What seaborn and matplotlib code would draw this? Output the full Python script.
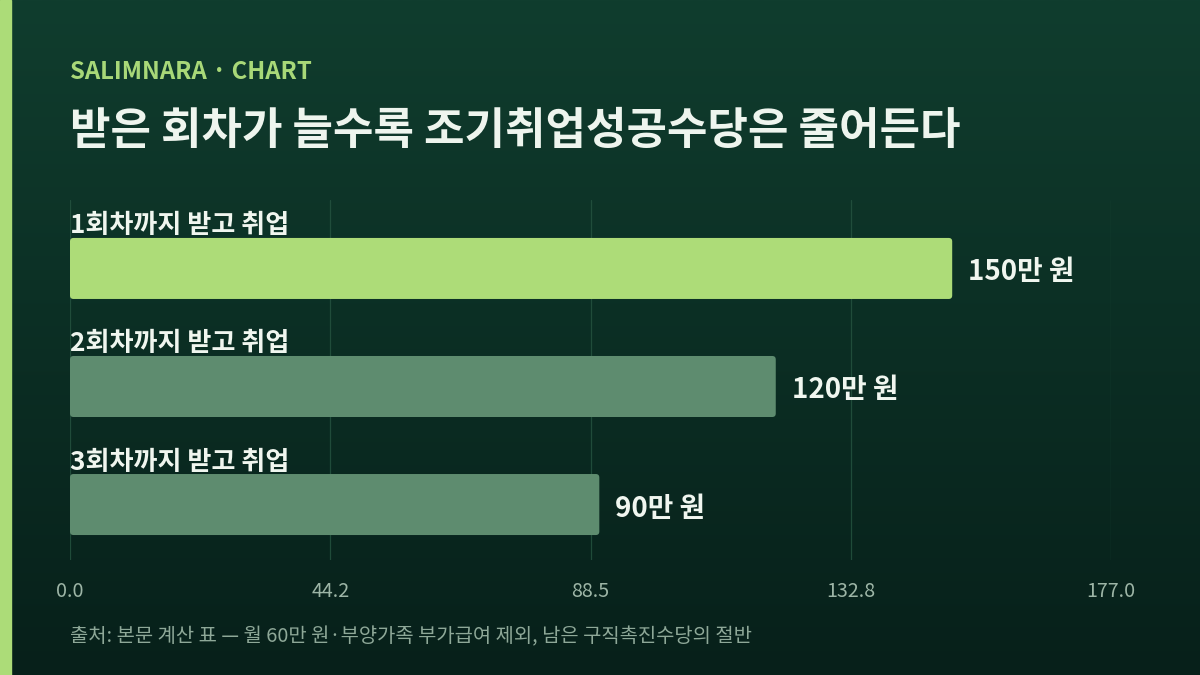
import numpy as np
import pandas as pd
import matplotlib
matplotlib.use("Agg")
import matplotlib.pyplot as plt
import seaborn as sns
from matplotlib.patches import FancyBboxPatch, Rectangle
from matplotlib.colors import LinearSegmentedColormap

# ---- data ----
categories = ["1회차까지 받고 취업", "2회차까지 받고 취업", "3회차까지 받고 취업"]
values = [150, 120, 90]
value_labels = ["150만 원", "120만 원", "90만 원"]
bar_colors = ["#addc78", "#5e8c6f", "#5e8c6f"]
x_max = 177.0
tick_values = list(np.linspace(0, x_max, 5))

kicker = "SALIMNARA · CHART"
title = "받은 회차가 늘수록 조기취업성공수당은 줄어든다"
source = "출처: 본문 계산 표 — 월 60만 원·부양가족 부가급여 제외, 남은 구직촉진수당의 절반"

sns.set_theme(style="white")
plt.rcParams["font.family"] = ["Noto Sans CJK KR", "DejaVu Sans"]

fig = plt.figure(figsize=(12, 6.75), dpi=100)

# background gradient
bg = fig.add_axes([0, 0, 1, 1], zorder=-10)
cmap = LinearSegmentedColormap.from_list("bg", ["#103d2e", "#07201a"])
grad = np.linspace(0, 1, 256).reshape(-1, 1)
bg.imshow(grad, aspect="auto", cmap=cmap, extent=[0, 1, 0, 1], origin="upper")
bg.add_patch(Rectangle((0, 0), 11 / 1200, 1, color="#acdc78", transform=bg.transAxes))
bg.set_axis_off()

ax = fig.add_axes([70 / 1200, 1 - 560 / 675, 1041 / 1200, 360 / 675])
ax.set_facecolor("none")

df = pd.DataFrame({"cat": categories, "val": values})
bar_h = 61 / 118
sns.barplot(data=df, x="val", y="cat", hue="cat", palette=bar_colors,
            orient="h", width=bar_h, legend=False, ax=ax, saturation=1)

ax.set_xlim(0, x_max)
ax.set_ylim(len(categories) - 1 + 0.47, -0.58)

# rounded bars
px_x = x_max / 1041
px_y = 1 / 118
for p in list(ax.patches):
    x, y = p.get_x(), p.get_y()
    w, h = p.get_width(), p.get_height()
    fc = p.get_facecolor()
    p.set_visible(False)
    r = 3.5 * px_x
    fb = FancyBboxPatch((x, y), w, h,
                        boxstyle=f"round,pad=0,rounding_size={r}",
                        mutation_aspect=px_y / px_x,
                        facecolor=fc, edgecolor="none", zorder=3)
    ax.add_patch(fb)

# grid
ax.set_xticks(tick_values)
ax.set_xticklabels([f"{t:.1f}" for t in tick_values])
ax.grid(axis="x", color="#24523f", linewidth=0.9, alpha=0.85)
ax.grid(axis="y", visible=False)
ax.set_axisbelow(True)
for s in ax.spines.values():
    s.set_visible(False)
ax.set_yticks([])
ax.set_xlabel("")
ax.set_ylabel("")
ax.tick_params(axis="x", colors="#9db5a6", labelsize=14.2, length=0, pad=15)

# category labels & value labels
for i, (cat, v, lab) in enumerate(zip(categories, values, value_labels)):
    ax.text(0, i - bar_h / 2 + 1.5 * px_y, cat, ha="left", va="bottom",
            fontsize=18.8, fontweight="bold", color="#f0f6ef", zorder=4)
    ax.text(v + 16 * px_x, i + 4 * px_y, lab, ha="left", va="center",
            fontsize=20, fontweight="bold", color="#f0f6ef", zorder=4)

# header & footer
fig.text(70 / 1200, 1 - 72 / 675, kicker, ha="left", va="center",
         fontsize=17.2, fontweight="bold", color="#a8d878")
fig.text(70 / 1200, 1 - 131 / 675, title, ha="left", va="center",
         fontsize=31.7, fontweight="bold", color="#eef5ee")
fig.text(70 / 1200, 1 - 637 / 675, source, ha="left", va="center",
         fontsize=14.3, color="#8ea898")

fig.savefig("out.png", dpi=100)
